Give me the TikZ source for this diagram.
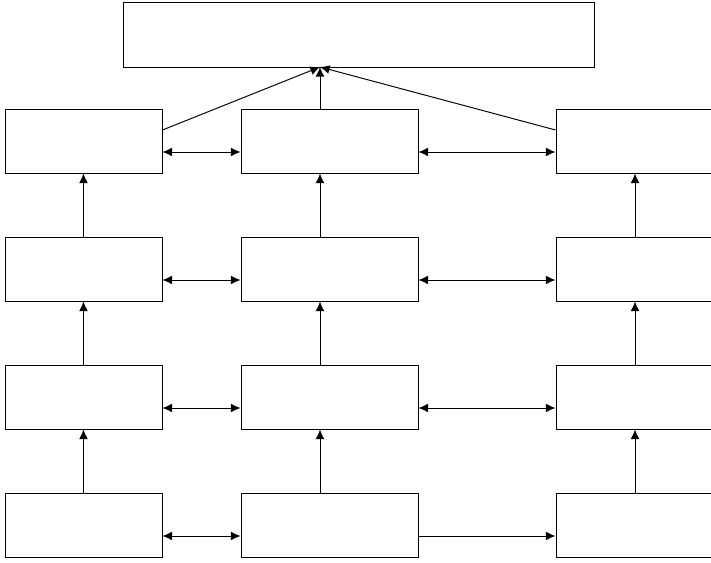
\documentclass[tikz,border=0pt]{standalone}
\usetikzlibrary{arrows.meta}

\begin{document}
\begin{tikzpicture}[x=0.02cm, y=-0.02cm, line width=0.55pt,
    caixa/.style={draw, minimum height=1.28cm, inner sep=0pt},
    fletxa/.style={-{Latex[length=5.5pt,width=5pt]}},
    doble/.style={{Latex[length=5.5pt,width=5pt]}-{Latex[length=5.5pt,width=5pt]}}]
    \clip (0,0) rectangle (711,563);

    % Caixa superior
    \node[caixa, minimum width=9.44cm, minimum height=1.3cm] (dalt) at (359,34.5) {};
    \coordinate (punt) at (320,67);

    % Files de caixes
    \foreach \y/\i in {141/1,269/2,397/3,525/4} {
        \node[caixa, minimum width=3.14cm] (e\i) at (83.5,\y) {};
        \node[caixa, minimum width=3.54cm] (m\i) at (329.5,\y) {};
        \node[caixa, minimum width=3.16cm] (d\i) at (635,\y) {};
        \draw[doble] ([yshift=-0.22cm]e\i.east) -- ([yshift=-0.22cm]m\i.west);
    }
    \foreach \i in {1,2,3}
        \draw[doble] ([yshift=-0.22cm]m\i.east) -- ([yshift=-0.22cm]d\i.west);
    \draw[fletxa] ([yshift=-0.22cm]m4.east) -- ([yshift=-0.22cm]d4.west);

    % Fletxes verticals
    \foreach \a/\b in {4/3,3/2,2/1} {
        \draw[fletxa] (e\a) -- (e\b);
        \draw[fletxa] (m\a.north -| punt) -- (m\b.south -| punt);
        \draw[fletxa] (d\a) -- (d\b);
    }

    % Cap a la caixa superior
    \draw[fletxa] (m1.north -| punt) -- (punt);
    \draw[fletxa] ([yshift=0.22cm]e1.east) -- (punt);
    \draw[fletxa] ([yshift=0.22cm]d1.west) -- (punt);
\end{tikzpicture}
\end{document}
